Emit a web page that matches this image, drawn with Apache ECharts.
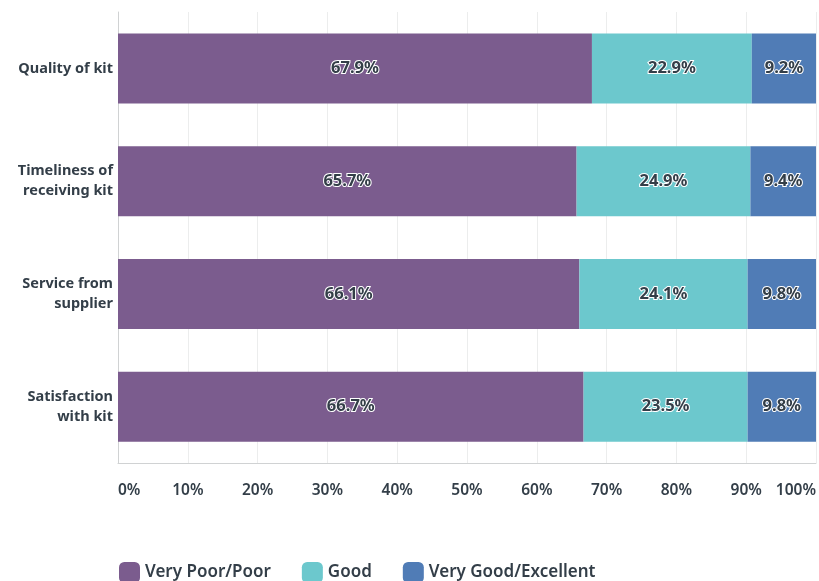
<!DOCTYPE html>
<html lang="en">
<head>
    <meta charset="utf-8">
    <title></title>
    <script src="https://cdn.jsdelivr.net/npm/echarts@6/dist/echarts.min.js"></script>
    <style>
        html, body {margin: 0; padding: 0; background: #fff;}
        #main {width: 819px; height: 581px;}
    </style>
</head>
<body>
<div id="main"></div>
<script type="text/javascript">
    var categories = ['Quality of kit', 'Timeliness of\nreceiving kit', 'Service from\nsupplier', 'Satisfaction\nwith kit'];
    var seriesNames = ['Very Poor/Poor', 'Good', 'Very Good/Excellent'];
    var poorData = [67.9, 65.7, 66.1, 66.7];
    var goodData = [22.9, 24.9, 24.1, 23.5];
    var excellentData = [9.2, 9.4, 9.8, 9.8];
    var colors = ['#7b5c8e', '#6cc8cd', '#507cb6'];

    var myChart = echarts.init(document.getElementById('main'));

    function makeSeries(name, data, color) {
        return {
            name: name,
            type: 'bar',
            stack: 'total',
            barWidth: 70,
            itemStyle: {color: color},
            label: {
                show: true,
                formatter: function (p) { return p.value.toFixed(1) + '%'; },
                color: '#333e48',
                fontSize: 16.5,
                fontWeight: 'bold',
                fontFamily: 'Noto Sans',
                textBorderColor: '#fff',
                textBorderWidth: 2
            },
            data: data
        };
    }

    var option = {
        animation: false,
        color: colors,
        grid: {left: 118, right: -2, top: 12, bottom: 118},
        legend: {
            data: seriesNames,
            left: 114,
            bottom: -7,
            itemWidth: 21,
            itemHeight: 21,
            itemGap: 31,
            icon: 'roundRect',
            textStyle: {color: '#333e48', fontSize: 17, fontWeight: 600, fontFamily: 'Noto Sans'}
        },
        xAxis: {
            type: 'value',
            min: 0,
            max: 100,
            interval: 10,
            axisLine: {show: true, lineStyle: {color: '#d0d2d3'}},
            axisTick: {show: false},
            splitLine: {show: true, lineStyle: {color: '#eceded'}},
            axisLabel: {
                formatter: '{value}%',
                margin: 20,
                color: '#333e48',
                fontSize: 15.5,
                fontWeight: 600,
                fontFamily: 'Noto Sans',
                alignMinLabel: 'left',
                alignMaxLabel: 'right'
            }
        },
        yAxis: {
            type: 'category',
            inverse: true,
            data: categories,
            axisLine: {show: true, lineStyle: {color: '#d0d2d3'}},
            axisTick: {show: false},
            axisLabel: {
                margin: 5,
                color: '#333e48',
                fontSize: 14.5,
                fontWeight: 'bold',
                fontFamily: 'Noto Sans',
                lineHeight: 20,
                align: 'right'
            }
        },
        series: [
            makeSeries(seriesNames[0], poorData, colors[0]),
            makeSeries(seriesNames[1], goodData, colors[1]),
            makeSeries(seriesNames[2], excellentData, colors[2])
        ]
    };
    myChart.setOption(option);
</script>
</body>
</html>
